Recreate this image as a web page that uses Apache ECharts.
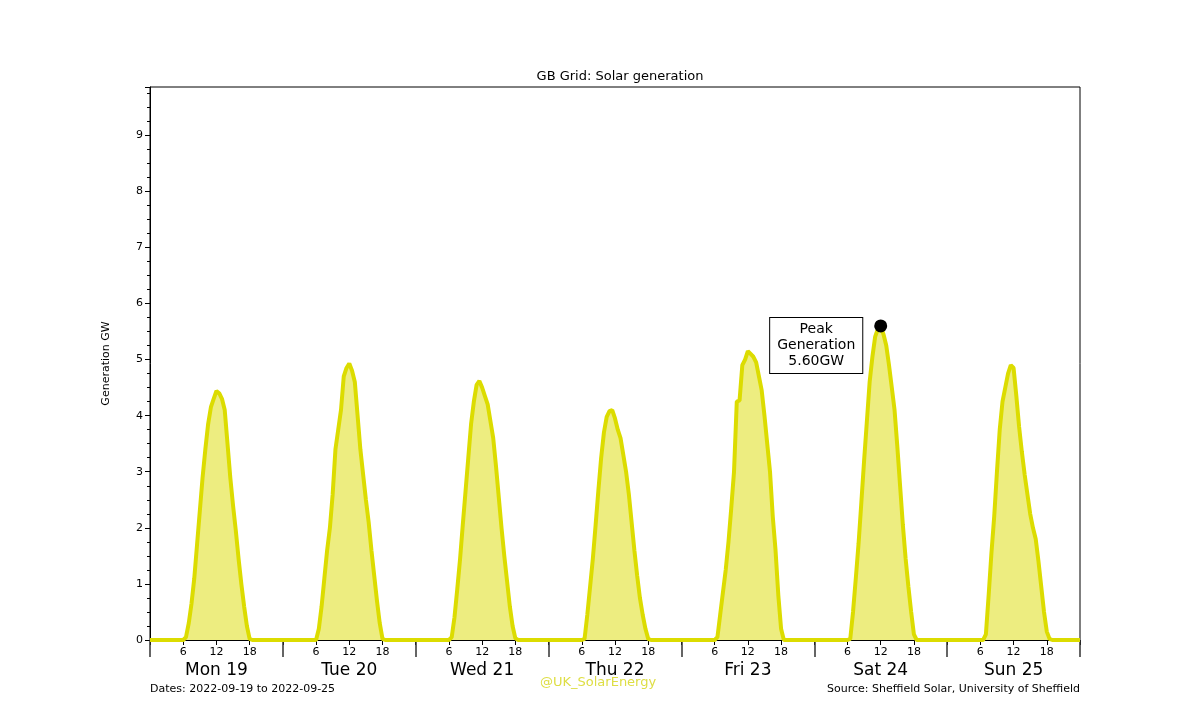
<!DOCTYPE html>
<html>
<head>
<meta charset="utf-8">
<title>GB Grid: Solar generation</title>
<script src="https://cdn.jsdelivr.net/npm/echarts@6/dist/echarts.min.js"></script>
<style>
  html, body { margin: 0; padding: 0; background: #fff; }
  #chart { width: 1200px; height: 720px; }
</style>
</head>
<body>
<div id="chart"></div>
<script>
// days shown under the axis
var dayLabels = ['Mon 19', 'Tue 20', 'Wed 21', 'Thu 22', 'Fri 23', 'Sat 24', 'Sun 25'];
// hour labels inside each day
var hourLabels = ['6', '12', '18'];

// half-hourly generation in GW, 06:00 .. 19:00 for each day (zero the rest of the night)
var dayStartHour = 6;
var mon = [0, 0.05, 0.3, 0.65, 1.1, 1.7, 2.3, 2.9, 3.4, 3.85, 4.15, 4.3, 4.44, 4.4, 4.3, 4.1, 3.5, 2.9, 2.4, 1.95, 1.45, 1.0, 0.6, 0.25, 0.02, 0, 0];
var tue = [0, 0.2, 0.6, 1.1, 1.6, 2.0, 2.6, 3.4, 3.75, 4.1, 4.7, 4.85, 4.93, 4.8, 4.6, 4.0, 3.4, 2.95, 2.5, 2.1, 1.6, 1.15, 0.7, 0.3, 0.02, 0, 0];
var wed = [0, 0.05, 0.4, 0.9, 1.43, 2.05, 2.65, 3.25, 3.85, 4.25, 4.55, 4.62, 4.5, 4.35, 4.2, 3.9, 3.6, 3.1, 2.55, 2.0, 1.5, 1.05, 0.6, 0.25, 0.03, 0, 0];
var thu = [0, 0.02, 0.45, 0.95, 1.45, 2.05, 2.67, 3.25, 3.7, 3.98, 4.08, 4.1, 3.95, 3.75, 3.6, 3.3, 3.0, 2.6, 2.1, 1.6, 1.15, 0.75, 0.45, 0.2, 0.02, 0, 0];
var fri = [0, 0.05, 0.45, 0.85, 1.25, 1.75, 2.35, 3.0, 4.25, 4.27, 4.9, 5.0, 5.15, 5.1, 5.05, 4.95, 4.7, 4.45, 4.0, 3.5, 3.0, 2.2, 1.6, 0.8, 0.2, 0, 0];
var sat = [0, 0.02, 0.5, 1.1, 1.72, 2.45, 3.2, 3.9, 4.6, 5.05, 5.41, 5.55, 5.6, 5.45, 5.25, 4.9, 4.5, 4.1, 3.45, 2.75, 2.05, 1.45, 0.95, 0.5, 0.1, 0, 0];
var sun = [0, 0, 0.1, 0.8, 1.55, 2.2, 3.0, 3.75, 4.25, 4.5, 4.75, 4.9, 4.85, 4.35, 3.8, 3.35, 2.95, 2.6, 2.25, 2.0, 1.8, 1.4, 0.95, 0.5, 0.15, 0.02, 0];
var days = [mon, tue, wed, thu, fri, sat, sun];

var yMax = 9.86;

// build [hour, GW] points over the week
var points = [];
var peak = [0, 0];
for (var d = 0; d < days.length; d++) {
    points.push([d * 24, 0]);
    for (var i = 0; i < days[d].length; i++) {
        var h = d * 24 + dayStartHour + i * 0.5;
        points.push([h, days[d][i]]);
        if (days[d][i] > peak[1]) peak = [h, days[d][i]];
    }
}
points.push([days.length * 24, 0]);

var font = 'DejaVu Sans';
var chart = echarts.init(document.getElementById('chart'));
var option = {
    animation: false,
    textStyle: { fontFamily: font },
    title: {
        text: 'GB Grid: Solar generation',
        left: 615,
        top: 65,
        textAlign: 'center',
        textStyle: { fontSize: 13, fontWeight: 'normal', color: '#000', fontFamily: font }
    },
    grid: {
        left: 150, right: 120, top: 87, bottom: 80,
        show: true, borderColor: '#000', borderWidth: 1
    },
    xAxis: [
        {
            // hours of the day
            type: 'value',
            min: 0,
            max: 168,
            interval: 6,
            splitLine: { show: false },
            axisLine: { lineStyle: { color: '#000' } },
            axisTick: { length: 5, lineStyle: { color: '#000' } },
            axisLabel: {
                fontSize: 11, color: '#000', margin: 7,
                formatter: function (v) {
                    var k = (v % 24) / 6;
                    return k === 0 ? '' : hourLabels[k - 1];
                }
            }
        },
        {
            // day separators
            type: 'value',
            position: 'bottom',
            min: 0,
            max: 168,
            interval: 24,
            splitLine: { show: false },
            axisLine: { show: false },
            axisTick: { show: true, length: 17, lineStyle: { color: '#333', width: 1.5 } },
            axisLabel: { show: false }
        },
        {
            // day names
            type: 'category',
            position: 'bottom',
            data: dayLabels,
            boundaryGap: true,
            axisLine: { show: false },
            axisTick: { show: false },
            axisLabel: { fontSize: 17, color: '#000', margin: 22 }
        }
    ],
    yAxis: {
        type: 'value',
        min: 0,
        max: yMax,
        interval: 1,
        name: 'Generation GW',
        nameLocation: 'middle',
        nameGap: 38,
        nameTextStyle: { fontSize: 11, color: '#000' },
        splitLine: { show: false },
        axisLine: { show: true, lineStyle: { color: '#000' } },
        axisTick: { show: true, length: 5, lineStyle: { color: '#000' } },
        minorTick: { show: true, splitNumber: 4, length: 3, lineStyle: { color: '#000' } },
        axisLabel: {
            fontSize: 11, color: '#000', margin: 7, showMaxLabel: false,
            formatter: function (v) { return Number.isInteger(v) ? String(v) : ''; }
        }
    },
    series: [
        {
            type: 'line',
            data: points,
            symbol: 'none',
            lineStyle: { color: '#dcdc00', width: 4 },
            areaStyle: { color: '#eded80', opacity: 1 },
            z: 2
        },
        {
            type: 'scatter',
            data: [peak],
            symbolSize: 13,
            itemStyle: { color: '#000', opacity: 1 },
            z: 5,
            label: {
                show: true,
                position: [-58, 26],
                align: 'center',
                verticalAlign: 'middle',
                formatter: 'Peak\nGeneration\n' + peak[1].toFixed(2) + 'GW',
                fontSize: 14,
                lineHeight: 16,
                color: '#000',
                backgroundColor: '#fff',
                borderColor: '#000',
                borderWidth: 1,
                padding: [4, 7, 3, 7]
            }
        }
    ],
    graphic: [
        {
            type: 'text', left: 150, top: 684,
            style: { text: 'Dates: 2022-09-19 to 2022-09-25', fontSize: 11, fill: '#000', fontFamily: font }
        },
        {
            type: 'text', left: 540, top: 676,
            style: { text: '@UK_SolarEnergy', fontSize: 13, fill: '#dede44', fontFamily: font }
        },
        {
            type: 'text', right: 120, top: 684,
            style: { text: 'Source: Sheffield Solar, University of Sheffield', fontSize: 11, fill: '#000', fontFamily: font }
        }
    ]
};
chart.setOption(option);
</script>
</body>
</html>
